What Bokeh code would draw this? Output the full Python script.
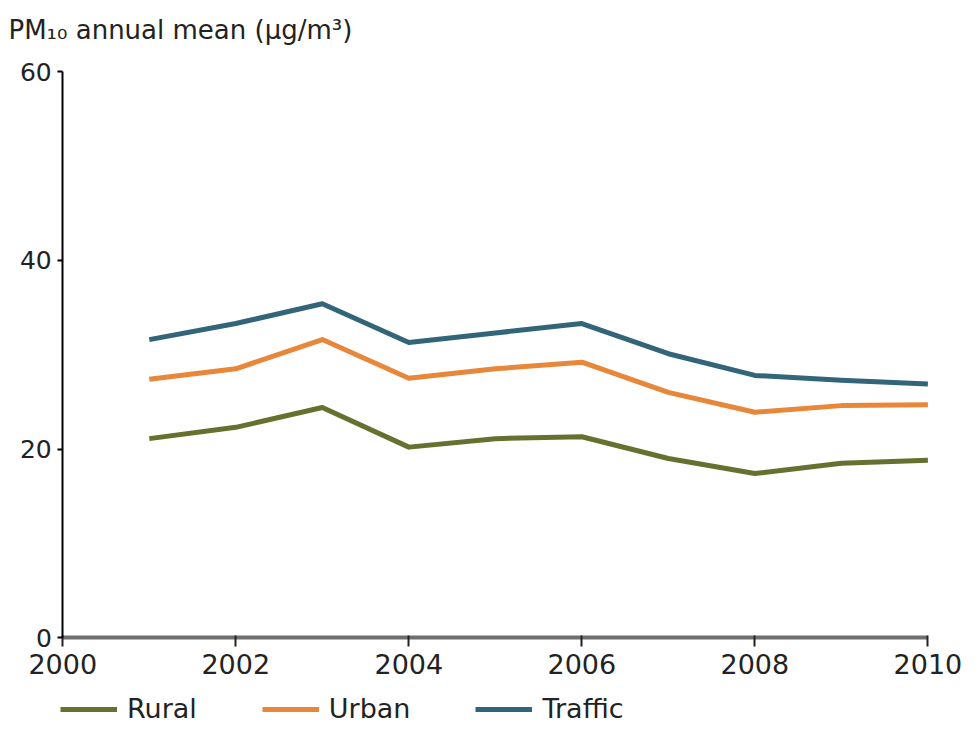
from bokeh.plotting import figure
from bokeh.models import Range1d, FixedTicker, Legend, LegendItem
from bokeh.embed import file_html
from bokeh.resources import INLINE

years = [2001, 2002, 2003, 2004, 2005, 2006, 2007, 2008, 2009, 2010]
rural = [21.1, 22.3, 24.4, 20.2, 21.1, 21.3, 19.0, 17.4, 18.5, 18.8]
urban = [27.4, 28.5, 31.6, 27.5, 28.5, 29.2, 26.0, 23.9, 24.6, 24.7]
traffic = [31.6, 33.3, 35.4, 31.3, 32.3, 33.3, 30.1, 27.8, 27.3, 26.9]
x_ticks = [2000, 2002, 2004, 2006, 2008, 2010]
y_ticks = [0, 20, 40, 60]
title_text = "PM\u2081\u2080 annual mean (\u00b5g/m\u00b3)"

FONT = "DejaVu Sans"

p = figure(width=962, height=724, output_backend="svg", toolbar_location=None,
           x_range=Range1d(1999.28, 2010.4), y_range=Range1d(-9.2, 61.5),
           min_border_left=0, min_border_right=0, min_border_top=50,
           min_border_bottom=0)
p.outline_line_color = None
p.xgrid.grid_line_color = None
p.ygrid.grid_line_color = None

p.title.text = title_text
p.title.text_font = FONT
p.title.text_font_size = "26px"
p.title.text_font_style = "normal"
p.title.text_color = "#222222"
p.title.align = "left"
p.title.offset = 8
p.title.standoff = 25

# axes
p.xaxis.ticker = FixedTicker(ticks=x_ticks)
p.yaxis.ticker = FixedTicker(ticks=y_ticks)
p.xaxis.minor_tick_line_color = None
p.yaxis.minor_tick_line_color = None
p.xaxis.fixed_location = 0
p.yaxis.fixed_location = 2000
p.xaxis.bounds = (2000, 2010)
p.yaxis.bounds = (0, 60)

p.yaxis.axis_line_color = "black"
p.yaxis.axis_line_width = 2
p.yaxis.major_tick_line_color = "black"
p.yaxis.major_tick_line_width = 2
p.yaxis.major_tick_out = 5
p.yaxis.major_tick_in = 0
p.yaxis.major_label_standoff = 6
p.yaxis.major_label_text_font = FONT
p.yaxis.major_label_text_font_size = "25px"
p.yaxis.major_label_text_color = "#222222"

p.xaxis.axis_line_color = "#6e6e6e"
p.xaxis.axis_line_width = 4
p.xaxis.major_tick_line_color = "#222222"
p.xaxis.major_tick_line_width = 2
p.xaxis.major_tick_out = 9
p.xaxis.major_tick_in = 2
p.xaxis.major_label_standoff = 7
p.xaxis.major_label_text_font = FONT
p.xaxis.major_label_text_font_size = "27px"
p.xaxis.major_label_text_color = "#222222"

r1 = p.line(years, rural, line_color="#66702f", line_width=5, line_join="round")
r2 = p.line(years, urban, line_color="#e8873a", line_width=5, line_join="round")
r3 = p.line(years, traffic, line_color="#33657a", line_width=5, line_join="round")

legend = Legend(items=[LegendItem(label="Rural", renderers=[r1]),
                       LegendItem(label="Urban", renderers=[r2]),
                       LegendItem(label="Traffic", renderers=[r3])],
                orientation="horizontal", location=(60, 0))
legend.border_line_color = None
legend.background_fill_alpha = 0
legend.padding = 0
legend.margin = 0
legend.spacing = 65
legend.glyph_width = 57
legend.glyph_height = 20
legend.label_height = 20
legend.label_standoff = 10
legend.label_text_font = FONT
legend.label_text_font_size = "27px"
legend.label_text_color = "#222222"
p.add_layout(legend, "center")

open("out.html", "w").write(file_html(p, INLINE))
